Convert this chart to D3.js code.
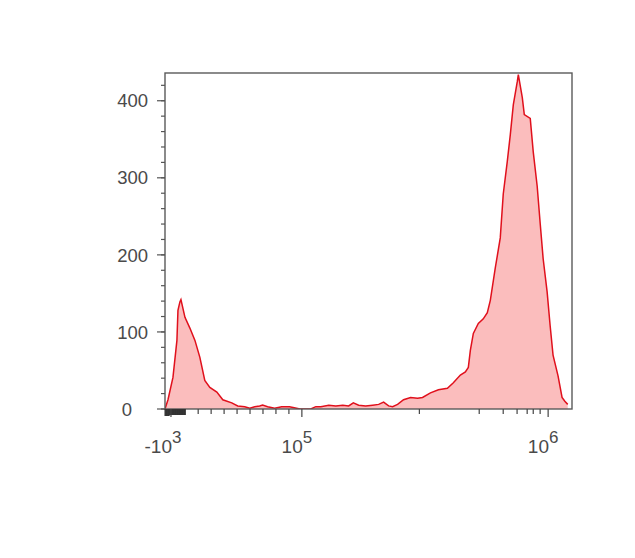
<!DOCTYPE html>
<html>
<head>
<meta charset="utf-8">
<script src="https://cdn.jsdelivr.net/npm/d3@7"></script>
<style>
  html, body { margin: 0; padding: 0; background: #fff; }
  svg { display: block; }
  text { font-family: Arial, "Liberation Sans", sans-serif; fill: #4a4a4a; }
</style>
</head>
<body>
<svg id="chart" width="635" height="558"></svg>
<script>
// ---- data (fluorescence value, event count) ----
const fluorescence = [
  -5600, -3300, 540, 3600, 4400, 5900, 6700, 9800, 13600, 17500, 21300, 25100, 29000,
  34400, 39000, 45900, 50500, 55900, 59800, 63600, 67400, 69700, 73600, 79000, 84400,
  90500, 95900, 98500, 103800, 108700, 113900, 119400, 128600, 137300, 146600, 154900,
  161800, 170100, 181500, 193900, 205100, 214700, 225000, 233600, 244700, 258800,
  276300, 295000, 309000, 332800, 358500, 389900, 412200, 440200, 461200, 474200,
  483200, 496900, 520600, 545400, 566300, 582400, 610100, 639200, 657300, 682400,
  702100, 722200, 749700, 756800, 785400, 800200, 846000, 869800, 902700, 928300,
  954500, 990600, 1019000, 1047000, 1097000, 1139000, 1169000, 1201000
];
const counts = [
  0, 12, 41, 89, 128, 139, 142, 119, 105, 89, 67, 37, 28,
  22, 12, 8, 4, 3, 1, 3, 4, 5, 3, 1, 3,
  3, 1, 0, 0, 0, 3, 3, 5, 4, 5, 4,
  8, 5, 4, 5, 6, 9, 4, 3, 6, 12,
  15, 14, 15, 21, 25, 27, 34, 44, 48, 54,
  76, 98, 111, 117, 125, 141, 183, 222, 279, 321,
  356, 395, 425, 434, 404, 382, 377, 334, 289, 241,
  195, 152, 108, 70, 43, 15, 10, 6
];
const yTicks = [0, 100, 200, 300, 400];
const yMinorTicks = d3.range(0, 440, 20);
const xMajorTicks = [-1000, 100000, 1000000];
const xMajorLabels = [["-10", "3"], ["10", "5"], ["10", "6"]];
const xDenseTicks = d3.range(-5500, 10001, 500);
const xMinorTicks = [20000, 30000, 40000, 50000, 60000, 70000, 80000, 90000,
  300000, 525000, 657000, 748000, 822000, 870000, 928000];
const xDomain = [-5600, 1250000];
const yDomain = [0, 436];

// ---- layout ----
const plot = { left: 165, top: 73, right: 572, bottom: 409 };

// hybrid linear / log display transform (linear below 1e5, log above)
const T = 1e5, K = 0.5263;
const g = v => v <= T ? K * v / T : K + Math.log10(v / T);

const x = d3.scaleLinear().domain(xDomain.map(g)).range([plot.left, plot.right]);
const X = v => x(g(v));
const y = d3.scaleLinear().domain(yDomain).range([plot.bottom, plot.top]);

const svg = d3.select("#chart");

const data = fluorescence.map((v, i) => ({ v, c: counts[i] }));

svg.append("clipPath").attr("id", "clip").append("rect")
  .attr("x", plot.left).attr("y", plot.top)
  .attr("width", plot.right - plot.left).attr("height", plot.bottom - plot.top);

const area = d3.area().x(d => X(d.v)).y0(y(0)).y1(d => y(d.c));
const line = d3.line().x(d => X(d.v)).y(d => y(d.c));

const g0 = svg.append("g").attr("clip-path", "url(#clip)");
g0.append("path").datum(data).attr("d", area).attr("fill", "#fbbdbd");
g0.append("path").datum(data).attr("d", line)
  .attr("fill", "none").attr("stroke", "#e0101c").attr("stroke-width", 1.5)
  .attr("stroke-linejoin", "miter");

// frame
svg.append("rect")
  .attr("x", plot.left).attr("y", plot.top)
  .attr("width", plot.right - plot.left).attr("height", plot.bottom - plot.top)
  .attr("fill", "none").attr("stroke", "#5a5a5a").attr("stroke-width", 1.4);

// y ticks
const yAxis = svg.append("g");
yAxis.selectAll("line.minor").data(yMinorTicks).join("line")
  .attr("x1", plot.left - 4).attr("x2", plot.left)
  .attr("y1", d => y(d)).attr("y2", d => y(d))
  .attr("stroke", "#555").attr("stroke-width", 1.2);
yAxis.selectAll("line.major").data(yTicks).join("line")
  .attr("x1", plot.left - 8).attr("x2", plot.left)
  .attr("y1", d => y(d)).attr("y2", d => y(d))
  .attr("stroke", "#555").attr("stroke-width", 1.2);
yAxis.selectAll("text").data(yTicks).join("text")
  .attr("x", d => d === 0 ? 132 : 148)
  .attr("y", d => y(d))
  .attr("dy", "0.36em")
  .attr("text-anchor", "end")
  .attr("font-size", 18.5)
  .text(d => d);

// x ticks
const xAxis = svg.append("g");
xAxis.selectAll("line.dense").data(xDenseTicks).join("line")
  .attr("x1", d => X(d)).attr("x2", d => X(d))
  .attr("y1", plot.bottom).attr("y2", d => plot.bottom + (d < -2000 ? 7 : 6))
  .attr("stroke", "#333").attr("stroke-width", 1.3);
xAxis.selectAll("line.minor").data(xMinorTicks).join("line")
  .attr("x1", d => X(d)).attr("x2", d => X(d))
  .attr("y1", plot.bottom).attr("y2", plot.bottom + 5)
  .attr("stroke", "#444").attr("stroke-width", 1.2);
xAxis.selectAll("line.major").data(xMajorTicks).join("line")
  .attr("x1", d => X(d)).attr("x2", d => X(d))
  .attr("y1", plot.bottom).attr("y2", plot.bottom + 8)
  .attr("stroke", "#444").attr("stroke-width", 1.2);

const labels = xAxis.selectAll("text").data(xMajorTicks).join("text")
  .attr("x", (d, i) => X(d) - (i === 0 ? 8 : 5))
  .attr("y", 453)
  .attr("text-anchor", "middle")
  .attr("font-size", 19);
labels.append("tspan").text((d, i) => xMajorLabels[i][0]);
labels.append("tspan").attr("dy", -10).attr("font-size", 17).text((d, i) => xMajorLabels[i][1]);
</script>
</body>
</html>
